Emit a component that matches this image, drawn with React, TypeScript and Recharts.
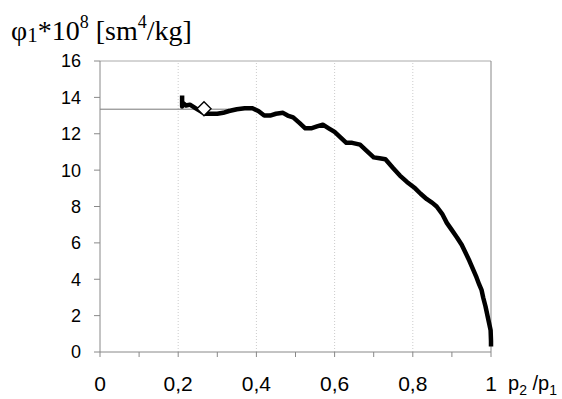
import React from 'react';
import { ComposedChart, Line, Scatter, XAxis, YAxis, ReferenceLine } from 'recharts';

const ratioX = [0.210,0.210,0.212,0.22,0.23,0.245,0.26,0.27,0.285,0.30,0.315,0.33,0.35,0.37,0.39,0.405,0.42,0.435,0.45,0.468,0.48,0.494,0.51,0.525,0.54,0.555,0.57,0.585,0.60,0.615,0.63,0.645,0.665,0.68,0.70,0.715,0.73,0.75,0.767,0.785,0.806,0.82,0.836,0.85,0.861,0.875,0.887,0.90,0.913,0.925,0.934,0.945,0.955,0.963,0.97,0.976,0.98,0.986,0.992,0.996,0.999,1.0,1.0];
const phiY = [14.1,13.5,13.7,13.55,13.6,13.4,13.2,13.1,13.1,13.1,13.15,13.25,13.35,13.4,13.4,13.25,13.0,13.0,13.1,13.15,13.0,12.9,12.6,12.3,12.3,12.4,12.5,12.3,12.1,11.8,11.5,11.5,11.4,11.1,10.7,10.65,10.6,10.1,9.7,9.35,9.0,8.7,8.4,8.2,8.0,7.6,7.1,6.7,6.3,5.9,5.5,5.0,4.5,4.1,3.7,3.4,3.0,2.5,1.9,1.5,1.2,0.6,0.3];
const levelX = [0, 0.33];
const levelY = [13.35, 13.35];
const markerX = [0.266];
const markerY = [13.38];
const xTicks = [0, 0.1, 0.2, 0.3, 0.4, 0.5, 0.6, 0.7, 0.8, 0.9, 1];
const xTickLabels: Record<string, string> = { '0': '0', '0.2': '0,2', '0.4': '0,4', '0.6': '0,6', '0.8': '0,8', '1': '1' };
const yTicks = [0, 2, 4, 6, 8, 10, 12, 14, 16];
const gridX = [0.2, 0.4, 0.6, 0.8];

const curveData = ratioX.map((x, i) => ({ x, y: phiY[i] }));
const levelData = levelX.map((x, i) => ({ x, y: levelY[i] }));
const markerData = markerX.map((x, i) => ({ x, y: markerY[i] }));

const Diamond = (props: any) => {
  const { cx, cy } = props;
  const r = 7;
  return <path d={`M${cx},${cy - r}L${cx + r},${cy}L${cx},${cy + r}L${cx - r},${cy}Z`} fill="#fff" stroke="#000" strokeWidth={1.4} />;
};

const YTitle = () => (
  <text x={11} y={40} fontFamily="'Liberation Serif', 'Times New Roman', serif" fontSize={28} fill="#000">
    <tspan>φ</tspan>
    <tspan fontSize={21} dy={2}>1</tspan>
    <tspan dy={-2}>*10</tspan>
    <tspan fontSize={18} dy={-12}>8</tspan>
    <tspan dy={12}> [sm</tspan>
    <tspan fontSize={18} dy={-12}>4</tspan>
    <tspan dy={12}>/kg]</tspan>
  </text>
);

const XTitle = () => (
  <text x={508} y={390} fontFamily="'Liberation Sans', Arial, sans-serif" fontSize={20} fill="#000">
    <tspan>p</tspan>
    <tspan fontSize={14} dy={5}>2</tspan>
    <tspan dy={-5}> /p</tspan>
    <tspan fontSize={14} dy={5}>1</tspan>
  </text>
);

export default function App() {
  return (
    <div style={{ position: 'absolute', left: 0, top: 0, width: 562, height: 399, background: '#fff' }}>
      <ComposedChart width={562} height={399} margin={{ top: 61, right: 71, bottom: 7, left: 0 }}>
        <XAxis
          type="number"
          dataKey="x"
          domain={[0, 1]}
          ticks={xTicks}
          interval={0}
          height={40}
          tickSize={5}
          tickMargin={19}
          stroke="#888"
          tick={{ fill: '#000', fontSize: 21, fontFamily: "'Liberation Sans', Arial, sans-serif" }}
          tickFormatter={(v: number) => xTickLabels[String(Math.round(v * 10) / 10)] ?? ''}
          label={{ content: () => <XTitle /> }}
        />
        <YAxis
          type="number"
          dataKey="y"
          domain={[0, 16]}
          ticks={yTicks}
          interval={0}
          width={100}
          tickSize={6}
          tickMargin={13}
          stroke="#888"
          tick={{ fill: '#000', fontSize: 18, fontFamily: "'Liberation Sans', Arial, sans-serif" }}
          label={{ content: () => <YTitle /> }}
        />
        {gridX.map((g) => (
          <ReferenceLine key={g} x={g} stroke="#ccc" strokeDasharray="1 2" />
        ))}
        <ReferenceLine y={16} stroke="#aaa" />
        <ReferenceLine x={1} stroke="#888" />
        <Line data={levelData} dataKey="y" type="linear" stroke="#777" strokeWidth={1} dot={false} isAnimationActive={false} />
        <Line data={curveData} dataKey="y" type="linear" stroke="#000" strokeWidth={4.5} strokeLinejoin="round" dot={false} isAnimationActive={false} />
        <Scatter data={markerData} dataKey="y" shape={<Diamond />} isAnimationActive={false} />
      </ComposedChart>
    </div>
  );
}
